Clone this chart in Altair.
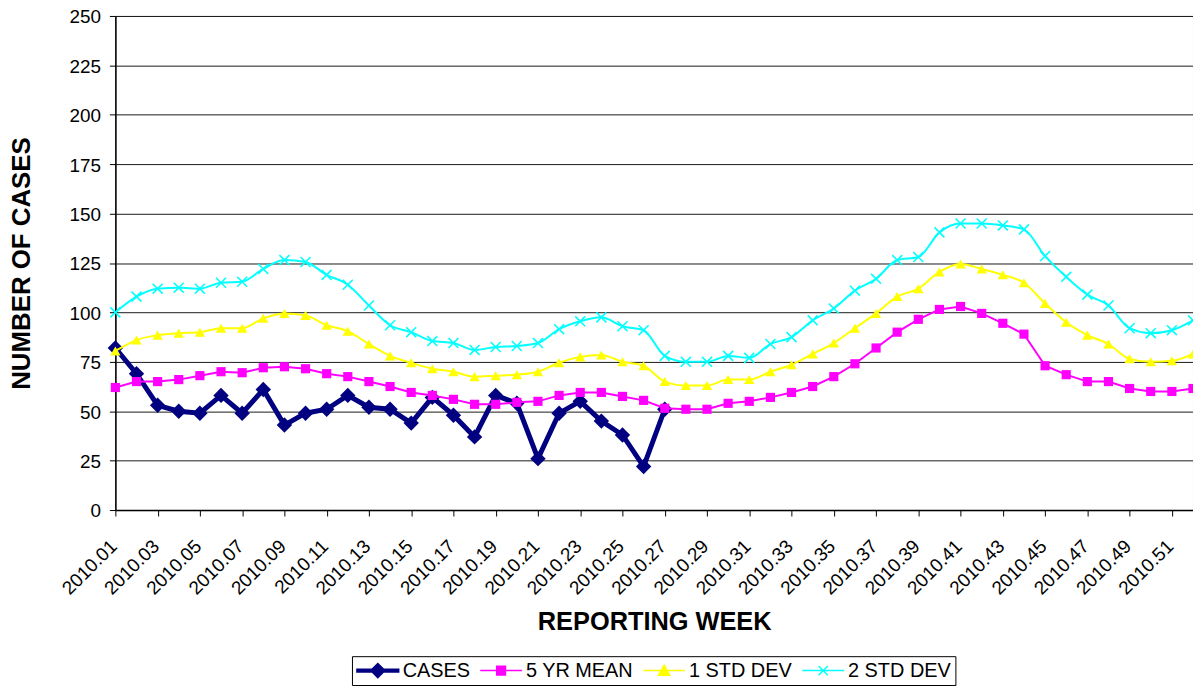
import altair as alt
import pandas as pd

# ---------------- data ----------------
weeks = ["2010.%02d" % i for i in range(1, 53)]
tick_weeks = weeks[0::2]  # 2010.01, 2010.03, ... 2010.51

series_names = ["CASES", "5 YR MEAN", "1 STD DEV", "2 STD DEV"]

cases = [82, 69, 53, 50, 49, 58, 49, 61, 43, 49, 51, 58, 52, 51,
         44, 57, 48, 37, 58, 54, 26, 49, 55, 45, 38, 22, 51]

mean5 = [62, 65, 65, 66, 68, 70, 69.5, 72, 72.5, 71.5, 69, 67.5, 65, 62.5,
         59.5, 58, 56, 53.5, 53.5, 54.5, 55, 58, 59.5, 59.5, 57.5, 55.5, 51.5,
         51, 51, 54, 55, 57, 59.5, 62.5, 67.5, 74, 82, 90, 96.5, 101.5,
         103, 99.5, 94.5, 89, 73, 68.5, 65, 65, 61.5, 60, 60, 61.5]

sd1 = [80.5, 86, 88.5, 89.5, 90, 92, 92, 97, 99.5, 98.5, 93.5, 90.5, 84, 78,
       74.5, 71.5, 70, 67.5, 68, 68.5, 70, 74.5, 77.5, 78.5, 75, 73, 65,
       63, 63, 66, 66, 70, 73.5, 79, 84.5, 92, 99.5, 108, 112, 120.5,
       124.5, 122, 119, 115, 104.5, 95, 88.5, 84, 76.5, 75, 75.5, 79]

sd2 = [100, 108, 112, 112.5, 112, 115, 115.5, 122, 126.5, 125.5, 119, 114, 103.5, 93.5,
       90, 85.5, 84.5, 81, 82.5, 83, 84.5, 91.5, 95.5, 97.5, 93, 91, 78,
       75, 75, 78, 77, 84, 87.5, 96, 102, 111, 117, 126.5, 128, 140.5,
       145, 145, 144, 142, 128.5, 118, 109, 103.5, 92, 89.5, 91, 96]

colors = ["#000080", "#FF00FF", "#FFFF00", "#00FFFF"]

XPATH = "M-1,-1L1,1M-1,1L1,-1"

legend_paths = [
    "M-1,-0.065H1V0.065H-1Z M0,-0.34L0.34,0L0,0.34L-0.34,0Z",
    "M-1,0H1 M-0.21,-0.21H0.21V0.21H-0.21Z",
    "M-1,0H1 M0,-0.26L0.27,0.22H-0.27Z",
    "M-1,0H1 M-0.22,-0.22L0.22,0.22 M-0.22,0.22L0.22,-0.22",
]

FONT = "Liberation Sans"

# ---------------- encodings ----------------
x_enc = alt.X(
    "week:O",
    sort=weeks,
    scale=alt.Scale(type="point", domain=weeks, padding=0),
    axis=alt.Axis(
        values=tick_weeks, labelAngle=315, labelAlign="right", labelBaseline="middle",
        labelPadding=27, labelOffset=-2, tickSize=6, labelFontSize=19, labelFont=FONT,
        labelColor="black", labelOverlap=False, grid=False, domainColor="black",
        domainWidth=1.5, tickColor="black", title="REPORTING WEEK", titleFont=FONT,
        titleFontSize=25.5, titleFontWeight="bold", titleX=542, titleY=120,
        titleBaseline="alphabetic", titleAlign="center", titleColor="black",
    ),
)
y_enc = alt.Y(
    "value:Q",
    scale=alt.Scale(domain=[0, 250], nice=False, zero=True),
    axis=alt.Axis(
        values=list(range(0, 251, 25)), format="d", grid=True, gridColor="#1a1a1a",
        gridWidth=1, tickSize=6, tickColor="black", labelPadding=9, labelFontSize=19,
        labelOffset=1, labelFont=FONT, labelColor="black", domainColor="black",
        domainWidth=1.5, title="NUMBER OF CASES", titleFont=FONT, titleFontSize=26,
        titleFontWeight="bold", titleX=-86, titleY=248.5, titleBaseline="alphabetic",
        titleAlign="center", titleAngle=270, titleColor="black",
    ),
)

specs = [
    (series_names[0], cases, colors[0], "diamond", 240, 5, "linear", True, 1),
    (series_names[1], mean5, colors[1], "square", 85, 2, "linear", True, 1),
    (series_names[2], sd1, colors[2], "triangle-up", 110, 2, "monotone", True, 1),
    (series_names[3], sd2, colors[3], XPATH, 100, 2, "monotone", False, 1.6),
]

layers = []
frames = []
for name, vals, col, shp, sz, lw, interp, filled, pw in specs:
    df = pd.DataFrame({"week": weeks[: len(vals)], "value": vals, "series": name})
    frames.append(df)
    layers.append(
        alt.Chart(df).mark_line(color=col, strokeWidth=lw, interpolate=interp)
        .encode(x=x_enc, y=y_enc)
    )
    layers.append(
        alt.Chart(df).mark_point(shape=shp, size=sz, filled=filled, color=col,
                                 strokeWidth=pw, opacity=1)
        .encode(x=x_enc, y=y_enc)
    )

all_df = pd.concat(frames, ignore_index=True)

leg = alt.Legend(
    orient="none", legendX=238, legendY=644, direction="horizontal", title=None,
    labelFont=FONT, labelFontSize=20, labelColor="black", symbolSize=1764,
    symbolStrokeWidth=1.5, symbolOpacity=1, labelOffset=3, columnPadding=9,
    padding=4, clipHeight=21, strokeColor="black", fillColor="white",
)

legend_layer = alt.Chart(all_df).mark_point(filled=True, opacity=0, size=1764).encode(
    x=x_enc,
    y=y_enc,
    fill=alt.Fill("series:N", scale=alt.Scale(domain=series_names, range=colors), legend=leg),
    stroke=alt.Stroke("series:N", scale=alt.Scale(domain=series_names, range=colors), legend=leg),
    shape=alt.Shape("series:N", scale=alt.Scale(domain=series_names, range=legend_paths), legend=leg),
)

chart = (
    alt.layer(*layers, legend_layer)
    .properties(
        width=1084, height=497,
        padding={"left": 108, "top": 6, "right": 0, "bottom": 176},
        autosize=alt.AutoSizeParams(type="none"),
        background="white",
    )
    .configure_view(stroke="#808080", strokeWidth=1)
)

chart.save("out.html", embed_options={"renderer": "svg", "actions": False})
